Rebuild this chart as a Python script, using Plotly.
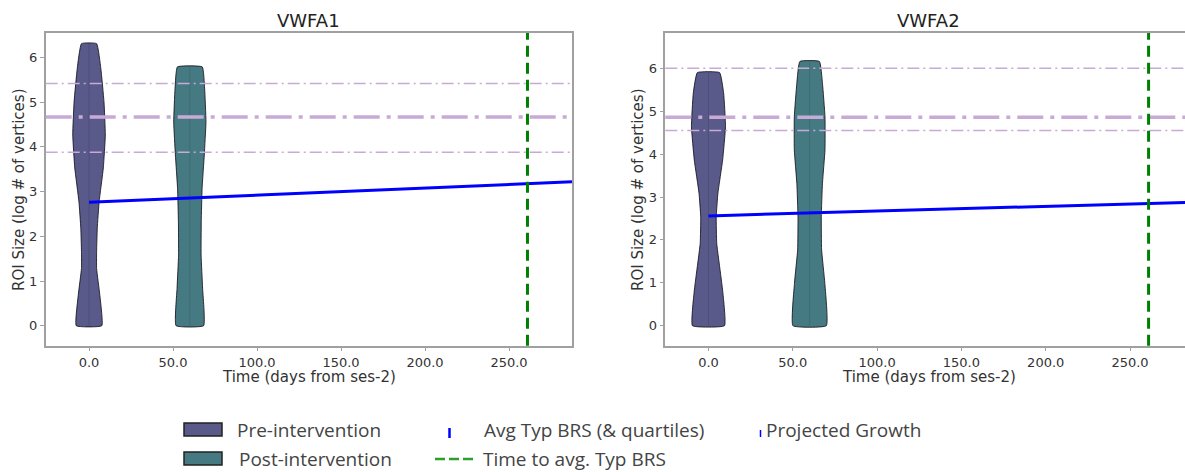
import plotly.graph_objects as go

# ---------------- data ----------------
panels = ["VWFA1", "VWFA2"]
time_pre = 0.0
time_post = 60.0
days_to_typ = [261.0, 261.0]

typ_avg = [4.67, 4.86]
typ_q1 = [3.88, 4.55]
typ_q3 = [5.42, 6.00]

proj_x = [0.0, 287.5]
proj_y_vwfa1 = [2.76, 3.22]
proj_y_vwfa2 = [2.56, 2.88]

# violin outlines: y level -> half width (days)
v1_pre_y = [0.0, 0.69, 1.28, 1.66, 2.18, 2.77, 3.53, 4.27, 5.01, 5.76, 6.31]
v1_pre_w = [7.6, 6.4, 4.5, 4.5, 4.9, 6.0, 8.5, 9.7, 8.9, 7.0, 4.5]
v1_post_y = [0.0, 0.84, 1.58, 2.33, 3.07, 3.82, 4.56, 5.31, 5.79]
v1_post_w = [8.2, 7.6, 6.7, 6.8, 7.3, 8.6, 9.6, 8.8, 7.4]
v2_pre_y = [0.0, 0.75, 1.14, 1.92, 2.54, 3.09, 3.86, 4.64, 5.42, 5.90]
v2_pre_w = [9.5, 8.6, 7.4, 4.9, 4.6, 5.6, 8.4, 10.1, 9.0, 6.6]
v2_post_y = [0.0, 0.99, 1.77, 2.54, 3.32, 4.10, 4.87, 5.65, 6.16]
v2_post_w = [9.9, 9.0, 7.1, 6.9, 7.6, 9.1, 9.1, 7.6, 5.8]

x_ticks = [0, 50, 100, 150, 200, 250]
y_ticks = [0, 1, 2, 3, 4, 5, 6]

# ---------------- styling ----------------
W, H = 1185, 472
PRE_COLOR = "#59598a"
POST_COLOR = "#467a82"
PURPLE = "#c8aad6"
GREEN = "#008000"
BLUE = "#0000ff"
FRAME = "#a0a0a0"
FONT = "DejaVu Sans"


def px(x):
    return x / W


def py(y):
    return 1 - y / H


fig = go.Figure()


def violin(xref, yref, center, ys, ws, color, name):
    xs = [center + w for w in ws] + [center - w for w in reversed(ws)] + [center + ws[0]]
    yy = list(ys) + list(reversed(ys)) + [ys[0]]
    fig.add_trace(go.Scatter(
        x=xs, y=yy, mode="lines", fill="toself", fillcolor=color,
        line=dict(color="rgba(20,20,30,0.85)", width=1, shape="spline", smoothing=0.35),
        xaxis=xref, yaxis=yref, name=name, showlegend=False, hoverinfo="skip"))
    fig.add_trace(go.Scatter(
        x=[center, center], y=[ys[0], ys[-1]], mode="lines",
        line=dict(color="rgba(0,0,0,0.12)", width=1),
        xaxis=xref, yaxis=yref, showlegend=False, hoverinfo="skip"))


violin("x", "y", time_pre, v1_pre_y, v1_pre_w, PRE_COLOR, "Pre-intervention")
violin("x", "y", time_post, v1_post_y, v1_post_w, POST_COLOR, "Post-intervention")
violin("x2", "y2", time_pre, v2_pre_y, v2_pre_w, PRE_COLOR, "Pre-intervention")
violin("x2", "y2", time_post, v2_post_y, v2_post_w, POST_COLOR, "Post-intervention")

for i, (xa, ya) in enumerate([("x", "y"), ("x2", "y2")]):
    dom = "x domain" if i == 0 else "x2 domain"
    for val, wdt, dash in [(typ_q3[i], 1.5, "12px,4px,2px,4px"),
                           (typ_avg[i], 3.5, "26px,7px,4px,7px"),
                           (typ_q1[i], 1.5, "12px,4px,2px,4px")]:
        fig.add_shape(type="line", xref=dom, yref=ya, x0=0, x1=1, y0=val, y1=val,
                      line=dict(color=PURPLE, width=wdt, dash=dash), layer="above")
    projy = proj_y_vwfa1 if i == 0 else proj_y_vwfa2
    fig.add_trace(go.Scatter(x=proj_x, y=projy, mode="lines",
                             line=dict(color=BLUE, width=3), xaxis=xa, yaxis=ya,
                             name="Projected Growth", showlegend=False))
    ydom = "y domain" if i == 0 else "y2 domain"
    fig.add_shape(type="line", xref=xa, yref=ydom, x0=days_to_typ[i], x1=days_to_typ[i],
                  y0=0, y1=1, line=dict(color=GREEN, width=3, dash="11px,6px"), layer="above")

axis_common = dict(showgrid=False, zeroline=False, ticks="outside", ticklen=4,
                   tickwidth=1, tickcolor=FRAME, linecolor=FRAME, linewidth=1.5,
                   showline=True, tickfont=dict(family=FONT, size=13, color="#333"))

fig.update_layout(
    width=W, height=H, margin=dict(l=0, r=0, t=0, b=0),
    paper_bgcolor="white", plot_bgcolor="white", showlegend=False,
    xaxis=dict(domain=[px(45.7), px(572)], range=[-25.8, 287.5], tickvals=x_ticks,
               tickformat=".1f", mirror=True, anchor="y", **axis_common),
    yaxis=dict(domain=[py(345.7), py(33)], range=[-0.447, 6.548], tickvals=y_ticks,
               mirror=True, anchor="x", **axis_common),
    xaxis2=dict(domain=[px(665.3), 1.0], range=[-25.6, 282.6], tickvals=x_ticks,
                tickformat=".1f", mirror=True, anchor="y2", **axis_common),
    yaxis2=dict(domain=[py(345.7), py(33)], range=[-0.466, 6.823], tickvals=y_ticks,
                mirror=False, anchor="x2", **axis_common),
)

# titles and axis labels
for cx, title in [(308, panels[0]), (928, panels[1])]:
    fig.add_annotation(text=title, x=px(cx), y=py(21), xref="paper", yref="paper",
                       showarrow=False, xanchor="center", yanchor="middle",
                       font=dict(family=FONT, size=18, color="#222"))
    fig.add_annotation(text="Time (days from ses-2)", x=px(cx + 1), y=py(376.5),
                       xref="paper", yref="paper", showarrow=False,
                       xanchor="center", yanchor="middle",
                       font=dict(family=FONT, size=15, color="#333"))
for cx in [19, 638]:
    fig.add_annotation(text="ROI Size (log # of vertices)", x=px(cx), y=py(190),
                       xref="paper", yref="paper", showarrow=False, textangle=-90,
                       xanchor="center", yanchor="middle",
                       font=dict(family=FONT, size=15, color="#333"))

# legend (manual)
LFONT = dict(family="Open Sans", size=19, color="#444")
fig.add_shape(type="rect", xref="paper", yref="paper", x0=px(184), x1=px(222),
              y0=py(436), y1=py(423), fillcolor=PRE_COLOR, line=dict(color="#222", width=1.5))
fig.add_shape(type="rect", xref="paper", yref="paper", x0=px(184), x1=px(222),
              y0=py(465), y1=py(452), fillcolor=POST_COLOR, line=dict(color="#222", width=1.5))
fig.add_shape(type="line", xref="paper", yref="paper", x0=px(449.5), x1=px(449.5),
              y0=py(438), y1=py(428), line=dict(color=BLUE, width=2.5))
fig.add_shape(type="line", xref="paper", yref="paper", x0=px(760.5), x1=px(760.5),
              y0=py(437), y1=py(430), line=dict(color=BLUE, width=1.5))
fig.add_shape(type="line", xref="paper", yref="paper", x0=px(435), x1=px(475),
              y0=py(459), y1=py(459), line=dict(color="#2ca02c", width=2.5, dash="10px,4px"))

for x0, y0, txt in [(235, 429.5, "Pre-intervention"), (237, 458.5, "Post-intervention"),
                    (482, 429.5, "Avg Typ BRS (&amp; quartiles)"), (764, 429.5, "Projected Growth"),
                    (481, 458.5, "Time to avg. Typ BRS")]:
    fig.add_annotation(text=txt, x=px(x0), y=py(y0), xref="paper", yref="paper",
                       showarrow=False, xanchor="left", yanchor="middle", font=LFONT)

fig.write_html("out.html", config={"displayModeBar": False},
               post_script="document.body.style.margin='0px';document.body.style.overflow='hidden';")
